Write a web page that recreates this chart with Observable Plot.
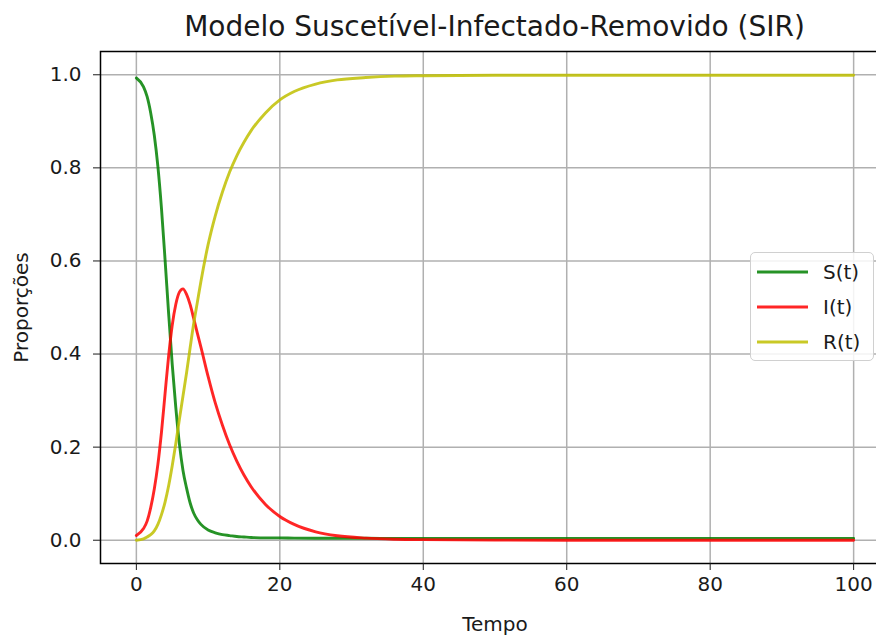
<!DOCTYPE html>
<html>
<head>
<meta charset="utf-8">
<script src="https://cdn.jsdelivr.net/npm/d3@7"></script>
<script src="https://cdn.jsdelivr.net/npm/@observablehq/plot@0.6"></script>
<style>
  html, body { margin: 0; padding: 0; background: #fff; }
  #wrap { position: relative; width: 876px; height: 636px; overflow: hidden; font-family: "DejaVu Sans", sans-serif; }
  #title { position: absolute; left: 0; width: 989px; top: 13px; text-align: center; font-size: 28px; line-height: 28px; color: #1a1a1a; white-space: nowrap; }
  #legend { position: absolute; left: 750px; top: 252px; width: 124px; height: 109px; box-sizing: border-box; border: 1.3px solid #d0d0d0; border-radius: 5px; background: rgba(255,255,255,0.85); }
  #legend .row { position: absolute; left: 0; height: 24px; display: flex; align-items: center; }
  #legend .lab { position: absolute; left: 72px; font-size: 20px; color: #1a1a1a; white-space: nowrap; }
  svg { display: block; }
</style>
</head>
<body>
<div id="wrap">
  <div id="chart"></div>
  <div id="title"></div>
  <div id="legend"></div>
</div>
<script>
// ---- data ----
const titleText = "Modelo Suscetível-Infectado-Removido (SIR)";
const xLabel = "Tempo";
const yLabel = "Proporções";
const seriesNames = ["S(t)", "I(t)", "R(t)"];
const seriesColors = ["#008000", "#ff0000", "#bfbf00"];

const tempo =       [0, 1, 1.5, 2, 2.5, 3, 3.5, 4, 4.5, 5, 5.5, 6, 6.5, 7, 7.5, 8, 8.5, 9, 10, 11, 12, 13, 14, 15, 16, 18, 20, 22, 25, 28, 32, 36, 40, 50, 60, 80, 100];
const suscetiveis = [0.993, 0.974, 0.953, 0.918, 0.870, 0.803, 0.713, 0.603, 0.487, 0.378, 0.285, 0.207, 0.150, 0.112, 0.080, 0.058, 0.044, 0.034, 0.022, 0.016, 0.012, 0.010, 0.008, 0.007, 0.006, 0.005, 0.005, 0.0045, 0.0043, 0.0042, 0.0041, 0.004, 0.004, 0.004, 0.004, 0.004, 0.004];
const infectados =  [0.010, 0.025, 0.041, 0.070, 0.110, 0.163, 0.232, 0.315, 0.396, 0.462, 0.507, 0.533, 0.540, 0.528, 0.506, 0.476, 0.445, 0.415, 0.352, 0.295, 0.247, 0.205, 0.170, 0.140, 0.115, 0.077, 0.051, 0.034, 0.018, 0.0095, 0.0045, 0.0022, 0.0012, 0.0003, 0.0001, 0, 0];
const removidos =   [0.000, 0.003, 0.007, 0.012, 0.020, 0.034, 0.055, 0.082, 0.117, 0.160, 0.208, 0.260, 0.310, 0.360, 0.414, 0.466, 0.511, 0.556, 0.635, 0.697, 0.748, 0.791, 0.826, 0.855, 0.880, 0.918, 0.946, 0.964, 0.980, 0.989, 0.994, 0.997, 0.998, 0.999, 0.999, 0.999, 0.999];

const xTicks = [0, 20, 40, 60, 80, 100];
const yTicks = [0, 0.2, 0.4, 0.6, 0.8, 1.0];

// ---- build long table ----
const seriesValues = [suscetiveis, infectados, removidos];
const rows = [];
seriesNames.forEach((name, k) => {
  tempo.forEach((t, i) => rows.push({t, v: seriesValues[k][i], serie: name}));
});

const font = "DejaVu Sans";
const chart = Plot.plot({
  width: 876,
  height: 636,
  marginTop: 51,
  marginBottom: 73,
  marginLeft: 100,
  marginRight: -13,
  style: {fontFamily: font, fontSize: "20px", color: "#1a1a1a", background: "transparent", overflow: "hidden"},
  x: {domain: [-5, 105]},
  y: {domain: [-0.05, 1.05]},
  color: {domain: seriesNames, range: seriesColors},
  marks: [
    Plot.gridX(xTicks, {stroke: "#b0b0b0", strokeOpacity: 1, strokeWidth: 1.5}),
    Plot.gridY(yTicks, {stroke: "#b0b0b0", strokeOpacity: 1, strokeWidth: 1.5}),
    Plot.line(rows, {x: "t", y: "v", z: "serie", stroke: "serie", strokeWidth: 2.9, strokeOpacity: 0.85, curve: "monotone-x"}),
    Plot.frame({stroke: "#000", strokeWidth: 1.5}),
    Plot.axisX(xTicks, {tickSize: 7, tickPadding: 6, fontSize: 20, tickFormat: d => String(d),
      label: xLabel, labelAnchor: "center", labelArrow: "none", labelOffset: 67}),
    Plot.axisY(yTicks, {tickSize: 7, tickPadding: 12, fontSize: 20, tickFormat: d3.format(".1f"),
      label: yLabel, labelAnchor: "center", labelArrow: "none", labelOffset: 87})
  ]
});
document.getElementById("chart").appendChild(chart);
document.getElementById("title").textContent = titleText;

// ---- legend (HTML overlay) ----
const legend = document.getElementById("legend");
const rowY = [19, 54, 89];
seriesNames.forEach((name, k) => {
  const row = document.createElement("div");
  row.className = "row";
  row.style.top = (rowY[k] - 12) + "px";
  row.style.width = "120px";
  row.innerHTML = `<svg width="60" height="24" style="position:absolute;left:0;top:0"><line x1="6" x2="57" y1="12" y2="12" stroke="${seriesColors[k]}" stroke-opacity="0.85" stroke-width="2.9"/></svg><span class="lab">${name}</span>`;
  legend.appendChild(row);
});
</script>
</body>
</html>
